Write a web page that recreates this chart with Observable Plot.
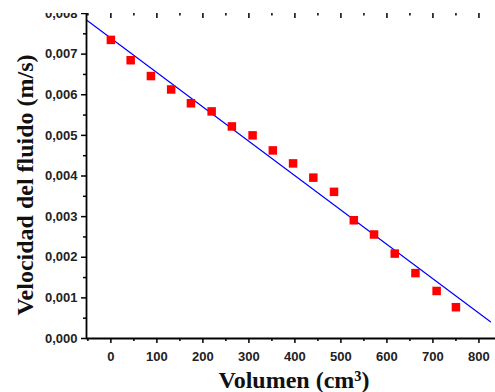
<!DOCTYPE html>
<html><head><meta charset="utf-8">
<script src="https://cdn.jsdelivr.net/npm/d3@7"></script>
<script src="https://cdn.jsdelivr.net/npm/@observablehq/plot@0.6"></script>
<style>
body{margin:0;background:#fff;}
#chart{padding-top:13px;width:495px;height:379px;}
#chart svg{overflow:hidden;}
</style></head><body><div id="chart"></div>
<script>
const volumen = [0, 43, 87, 131, 174, 219, 263, 308, 352, 396, 440, 485, 528, 572, 617, 662, 708, 750];
const velocidad = [0.00735, 0.00685, 0.00646, 0.00613, 0.00579, 0.00559, 0.00522, 0.00500, 0.00463, 0.00431, 0.00396, 0.00361, 0.00291, 0.00256, 0.00209, 0.00161, 0.00117, 0.00077];
const fitX = [-53, 825];
const fitY = [0.00784, 0.00041];
const xTicks = [0, 100, 200, 300, 400, 500, 600, 700, 800];
const xMinorTicks = [-50, 50, 150, 250, 350, 450, 550, 650, 750];
const yTicks = [0, 0.001, 0.002, 0.003, 0.004, 0.005, 0.006, 0.007, 0.008];
const yMinorTicks = [0.0005, 0.0015, 0.0025, 0.0035, 0.0045, 0.0055, 0.0065, 0.0075];
const xTitle = "Volumen (cm³)";
const yTitle = "Velocidad del fluido (m/s)";

const points = volumen.map((v, i) => ({v, u: velocidad[i]}));
const fit = fitX.map((x, i) => ({x, y: fitY[i]}));
const fmt = d => d.toFixed(3).replace(".", ",");
const W = 495, H = 379, ML = 86, MB = 54;
const innerH = H - MB, innerW = W - ML;
const tickFont = "Liberation Sans, Arial, sans-serif";
const titleFont = "Liberation Serif, Times New Roman, serif";

const chart = Plot.plot({
  width: W, height: H, marginLeft: ML, marginRight: 0, marginTop: 0, marginBottom: MB,
  style: {background: "white", overflow: "hidden"},
  x: {domain: [-53, 836]},
  y: {domain: [0, 0.008]},
  marks: [
    Plot.line(fit, {x: "x", y: "y", stroke: "#0000ff", strokeWidth: 1.2}),
    Plot.dot(points, {x: "v", y: "u", symbol: "square", r: 4.8, fill: "#ff0000", stroke: "none"}),
    Plot.axisX({ticks: xTicks, tickSize: 5, tickPadding: 8, tickFormat: d => String(d), label: null,
      fontSize: 13, fontWeight: "bold", fontFamily: tickFont, strokeWidth: 1.5, fill: "#222"}),
    Plot.axisY({ticks: yTicks, tickSize: 5, tickPadding: 4, tickFormat: fmt, label: null,
      fontSize: 13, fontWeight: "bold", fontFamily: tickFont, strokeWidth: 1.5, fill: "#222"}),
    Plot.tickX(xMinorTicks, {x: d => d, insetTop: innerH, insetBottom: -3, strokeWidth: 1.5}),
    Plot.tickX(xTicks, {x: d => d, insetBottom: innerH - 5, strokeWidth: 1.5}),
    Plot.tickX(xMinorTicks, {x: d => d, insetBottom: innerH - 2.5, strokeWidth: 1.5}),
    Plot.tickY(yMinorTicks, {y: d => d, insetLeft: -3, insetRight: innerW, strokeWidth: 1.5}),
    Plot.ruleY([0], {strokeWidth: 1.8}),
    Plot.ruleX([-53], {strokeWidth: 1.8}),
    Plot.text([xTitle], {frameAnchor: "bottom", dx: 3, dy: 41.5, lineAnchor: "middle", textAnchor: "middle",
      fontSize: 24, fontWeight: "bold", fontFamily: titleFont, fill: "#111"}),
    Plot.text([yTitle], {frameAnchor: "left", dx: -61, dy: 9, rotate: -90, lineAnchor: "middle", textAnchor: "middle",
      fontSize: 24, fontWeight: "bold", fontFamily: titleFont, fill: "#111"})
  ]
});
document.getElementById("chart").appendChild(chart);
</script>
</body></html>
